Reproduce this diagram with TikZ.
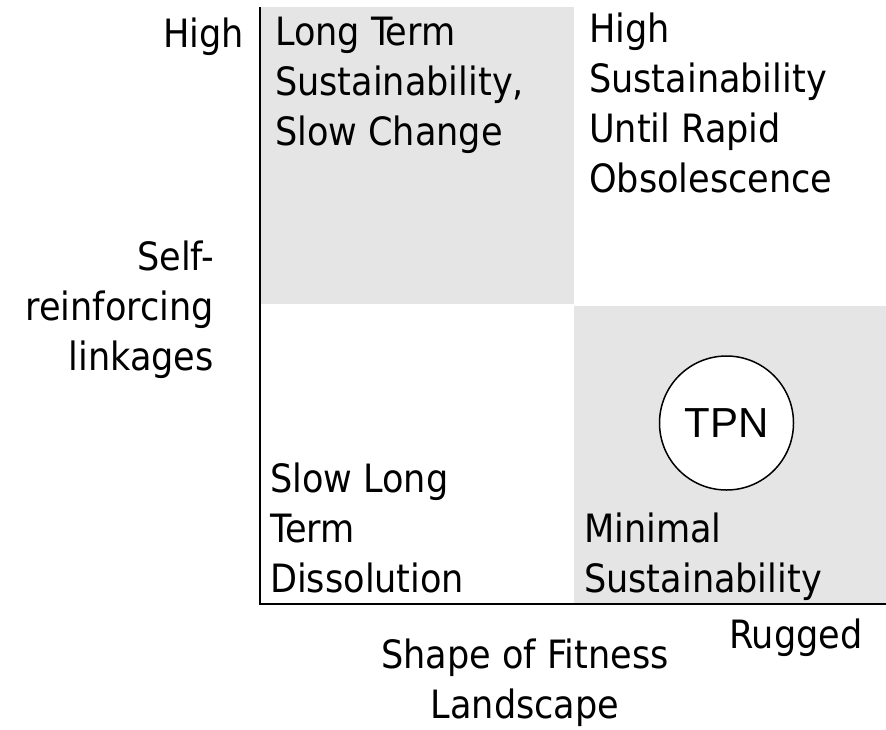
\documentclass[tikz,border=0pt]{standalone}
\usepackage{fontspec}
\setmainfont{DejaVu Sans Condensed}
\newfontfamily\arialfont{Liberation Sans}
\usetikzlibrary{positioning}
\definecolor{quadgray}{HTML}{E5E5E5}

\begin{document}
\begin{tikzpicture}
    [x=1pt,y=-1pt,
      every node/.style={inner sep=0pt,font=\fontsize{39}{50}\selectfont},
      lbl/.style={align=left,anchor=base west},
      rlbl/.style={align=right,anchor=base east},
      axis/.style={line width=2pt},
      tpn/.style={circle,draw,fill=white,line width=1.5pt,minimum size=134pt,
        font=\arialfont\fontsize{42}{50}\selectfont}]
  \useasboundingbox (0,0) rectangle (886,729);
  % shaded quadrants
  \fill[quadgray] (260,7) rectangle (574,304);
  \fill[quadgray] (574,306) rectangle (886,604);
  % axes
  \coordinate (top) at (260,7);
  \coordinate (origin) at (260,604);
  \coordinate (right) at (886,604);
  \draw[axis] (top) -- (origin) -- (right);
  % quadrant texts (placed at the baseline of the last line)
  \node[lbl] (ltss) at (275,145) {Long Term\\Sustainability,\\Slow Change};
  \node[lbl] (hsur) at (589,192) {High\\Sustainability\\Until Rapid\\Obsolescence};
  \node[lbl] (sltd) at (270,592) {Slow Long\\Term\\Dissolution};
  \node[lbl] (mins) at (584,592) {Minimal\\Sustainability};
  \node[tpn] (tpn) at (726.5,423) {TPN};
  % axis texts
  \node[rlbl] (high) at (244,47) {High};
  \node[rlbl] (selfr) at (214,370) {Self-\\reinforcing\\linkages};
  \node[lbl] (rugged) at (729,648) {Rugged};
  \node[align=center,anchor=base] (shape) at (525,718) {Shape of Fitness\\Landscape};
\end{tikzpicture}
\end{document}
